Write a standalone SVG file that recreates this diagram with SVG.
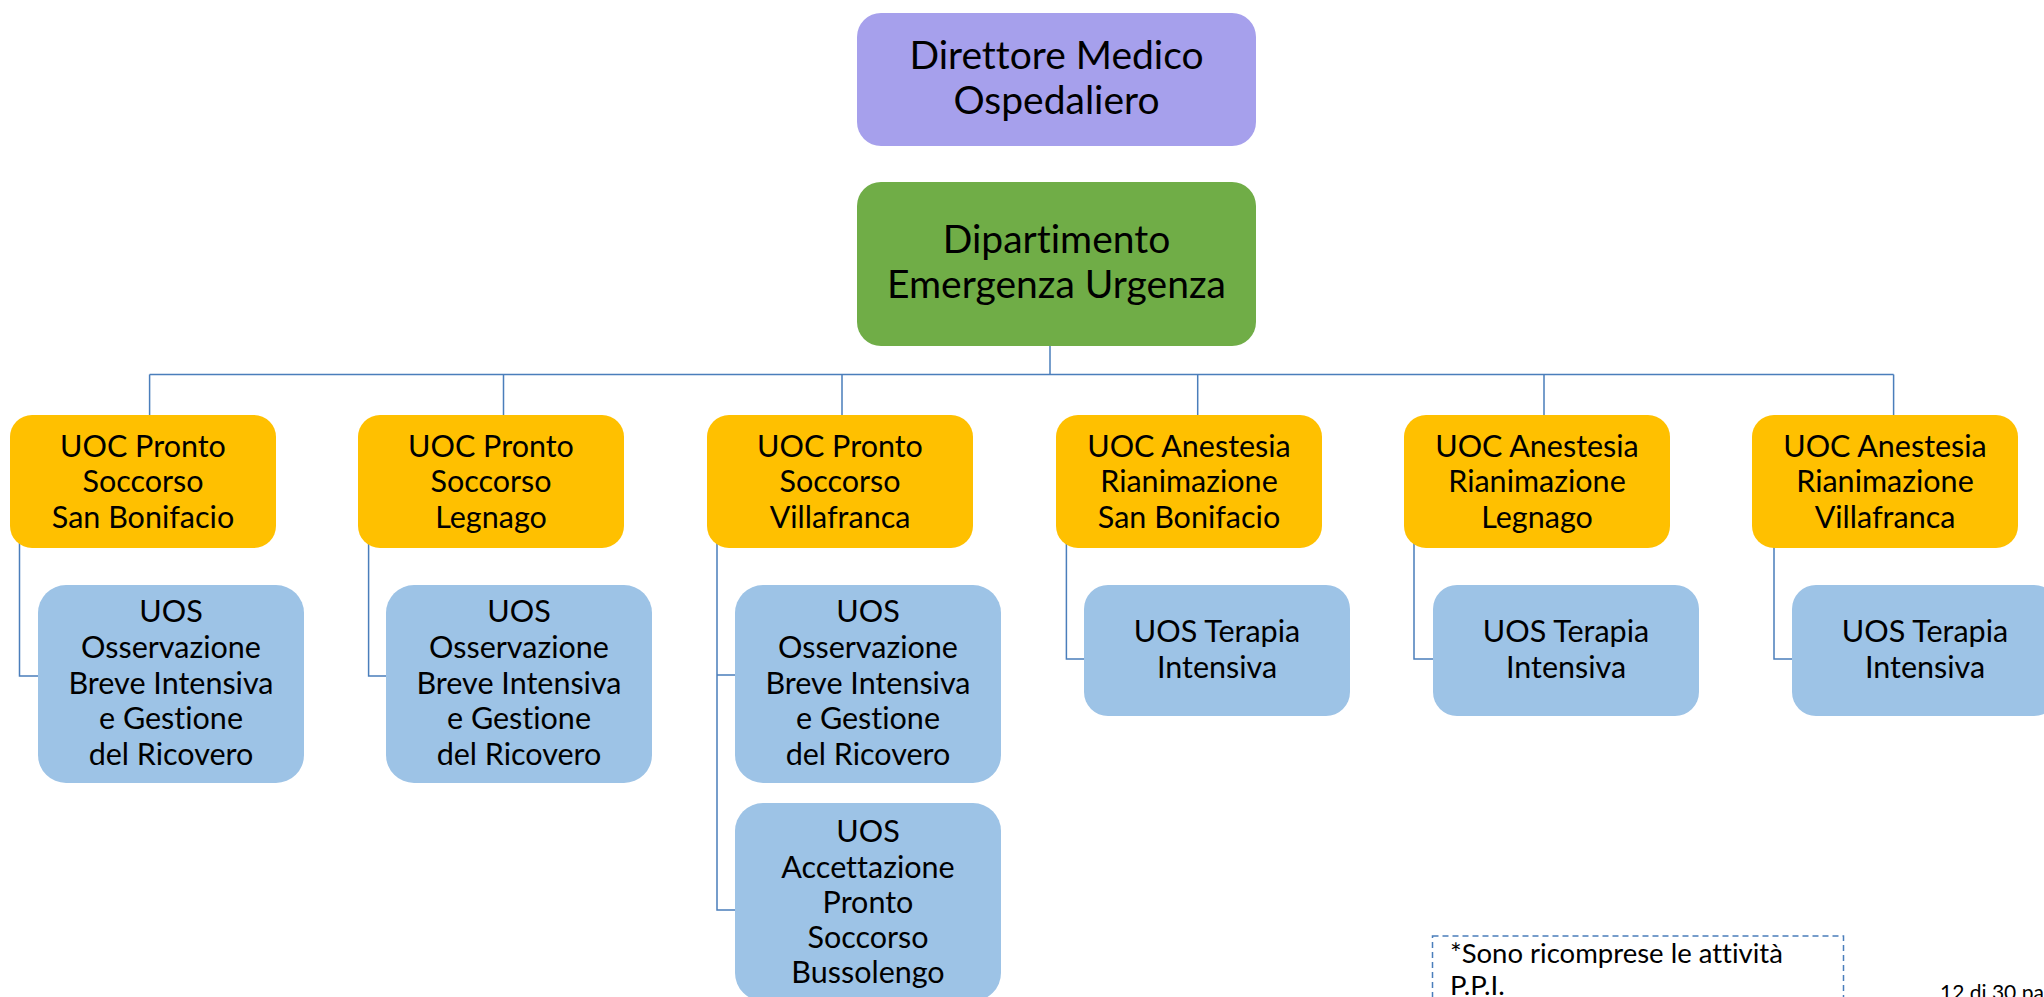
<svg xmlns="http://www.w3.org/2000/svg" width="2044" height="997" viewBox="0 0 2044 997">
<style>
  text { font-variant-ligatures: none; }
  .t { font-family: Lato, "Liberation Sans", sans-serif; fill: #000; text-anchor: middle; }
  .big { font-size: 39px; }
  .mid { font-size: 30.5px; }
  .note { font-family: Lato, "Liberation Sans", sans-serif; font-size: 27.5px; fill: #000; }
  .purple { fill: #A6A0EC; }
  .green { fill: #70AD47; }
  .gold { fill: #FFC000; }
  .blue { fill: #9DC3E6; }
  .conn { fill: none; stroke: #4A7EBB; stroke-width: 1.5; }
</style>
<rect width="2044" height="997" fill="#fff"/>
<g id="connectors">
  <path class="conn" d="M1050 346 V375" stroke-width="4.5"/>
  <path class="conn" d="M149.6 374.5 H1893.6"/>
  <path class="conn" d="M149.6 374.5 V416 M503.5 374.5 V416 M842 374.5 V416 M1197.7 374.5 V416 M1544 374.5 V416 M1893.6 374.5 V416"/>
  <path class="conn" d="M19.5 540 V676 H40"/>
  <path class="conn" d="M368.6 540 V676 H388"/>
  <path class="conn" d="M717 540 V910 H737 M717 675 H737"/>
  <path class="conn" d="M1066.4 540 V659 H1086"/>
  <path class="conn" d="M1414 540 V659 H1435"/>
  <path class="conn" d="M1774 540 V659 H1794"/>
</g>
<g id="n-direttore">
  <rect class="purple" x="857" y="13" width="399" height="133" rx="24"/>
  <text class="t big" x="1056.5" y="69">Direttore Medico</text>
  <text class="t big" x="1056.5" y="114">Ospedaliero</text>
</g>
<g id="n-dipartimento">
  <rect class="green" x="857" y="182" width="399" height="164" rx="24"/>
  <text class="t big" x="1056.5" y="253">Dipartimento</text>
  <text class="t big" x="1056.5" y="298">Emergenza Urgenza</text>
</g>
<g id="n-uoc-ps-sanbonifacio">
  <rect class="gold" x="10" y="415" width="266" height="133" rx="22"/>
  <text class="t mid" x="143" y="457">UOC Pronto</text>
  <text class="t mid" x="143" y="492">Soccorso</text>
  <text class="t mid" x="143" y="528">San Bonifacio</text>
</g>
<g id="n-uoc-ps-legnago">
  <rect class="gold" x="358" y="415" width="266" height="133" rx="22"/>
  <text class="t mid" x="491" y="457">UOC Pronto</text>
  <text class="t mid" x="491" y="492">Soccorso</text>
  <text class="t mid" x="491" y="528">Legnago</text>
</g>
<g id="n-uoc-ps-villafranca">
  <rect class="gold" x="707" y="415" width="266" height="133" rx="22"/>
  <text class="t mid" x="840" y="457">UOC Pronto</text>
  <text class="t mid" x="840" y="492">Soccorso</text>
  <text class="t mid" x="840" y="528">Villafranca</text>
</g>
<g id="n-uoc-ar-sanbonifacio">
  <rect class="gold" x="1056" y="415" width="266" height="133" rx="22"/>
  <text class="t mid" x="1189" y="457">UOC Anestesia</text>
  <text class="t mid" x="1189" y="492">Rianimazione</text>
  <text class="t mid" x="1189" y="528">San Bonifacio</text>
</g>
<g id="n-uoc-ar-legnago">
  <rect class="gold" x="1404" y="415" width="266" height="133" rx="22"/>
  <text class="t mid" x="1537" y="457">UOC Anestesia</text>
  <text class="t mid" x="1537" y="492">Rianimazione</text>
  <text class="t mid" x="1537" y="528">Legnago</text>
</g>
<g id="n-uoc-ar-villafranca">
  <rect class="gold" x="1752" y="415" width="266" height="133" rx="22"/>
  <text class="t mid" x="1885" y="457">UOC Anestesia</text>
  <text class="t mid" x="1885" y="492">Rianimazione</text>
  <text class="t mid" x="1885" y="528">Villafranca</text>
</g>
<g id="n-uos-obi-sanbonifacio">
  <rect class="blue" x="38" y="585" width="266" height="198" rx="28"/>
  <text class="t mid" x="171" y="622">UOS</text>
  <text class="t mid" x="171" y="658">Osservazione</text>
  <text class="t mid" x="171" y="694">Breve Intensiva</text>
  <text class="t mid" x="171" y="729">e Gestione</text>
  <text class="t mid" x="171" y="765">del Ricovero</text>
</g>
<g id="n-uos-obi-legnago">
  <rect class="blue" x="386" y="585" width="266" height="198" rx="28"/>
  <text class="t mid" x="519" y="622">UOS</text>
  <text class="t mid" x="519" y="658">Osservazione</text>
  <text class="t mid" x="519" y="694">Breve Intensiva</text>
  <text class="t mid" x="519" y="729">e Gestione</text>
  <text class="t mid" x="519" y="765">del Ricovero</text>
</g>
<g id="n-uos-obi-villafranca">
  <rect class="blue" x="735" y="585" width="266" height="198" rx="28"/>
  <text class="t mid" x="868" y="622">UOS</text>
  <text class="t mid" x="868" y="658">Osservazione</text>
  <text class="t mid" x="868" y="694">Breve Intensiva</text>
  <text class="t mid" x="868" y="729">e Gestione</text>
  <text class="t mid" x="868" y="765">del Ricovero</text>
</g>
<g id="n-uos-accettazione">
  <rect class="blue" x="735" y="803" width="266" height="198" rx="28"/>
  <text class="t mid" x="868" y="842">UOS</text>
  <text class="t mid" x="868" y="878">Accettazione</text>
  <text class="t mid" x="868" y="913">Pronto</text>
  <text class="t mid" x="868" y="948">Soccorso</text>
  <text class="t mid" x="868" y="983">Bussolengo</text>
</g>
<g id="n-uos-ti-sanbonifacio">
  <rect class="blue" x="1084" y="585" width="266" height="131" rx="24"/>
  <text class="t mid" x="1217" y="642">UOS Terapia</text>
  <text class="t mid" x="1217" y="678">Intensiva</text>
</g>
<g id="n-uos-ti-legnago">
  <rect class="blue" x="1433" y="585" width="266" height="131" rx="24"/>
  <text class="t mid" x="1566" y="642">UOS Terapia</text>
  <text class="t mid" x="1566" y="678">Intensiva</text>
</g>
<g id="n-uos-ti-villafranca">
  <rect class="blue" x="1792" y="585" width="266" height="131" rx="24"/>
  <text class="t mid" x="1925" y="642">UOS Terapia</text>
  <text class="t mid" x="1925" y="678">Intensiva</text>
</g>
<g id="note">
  <rect x="1432.5" y="936" width="411" height="90" fill="none" stroke="#4A7EBB" stroke-width="1.5" stroke-dasharray="6 4"/>
  <text class="note" x="1450" y="963">*Sono ricomprese le attività</text>
  <text class="note" x="1450" y="995">P.P.I.</text>
</g>
<g id="footer">
  <text x="1940" y="1000" font-family="Lato, 'Liberation Sans', sans-serif" font-size="21" fill="#000">12 di 30 pagine</text>
</g>
</svg>
